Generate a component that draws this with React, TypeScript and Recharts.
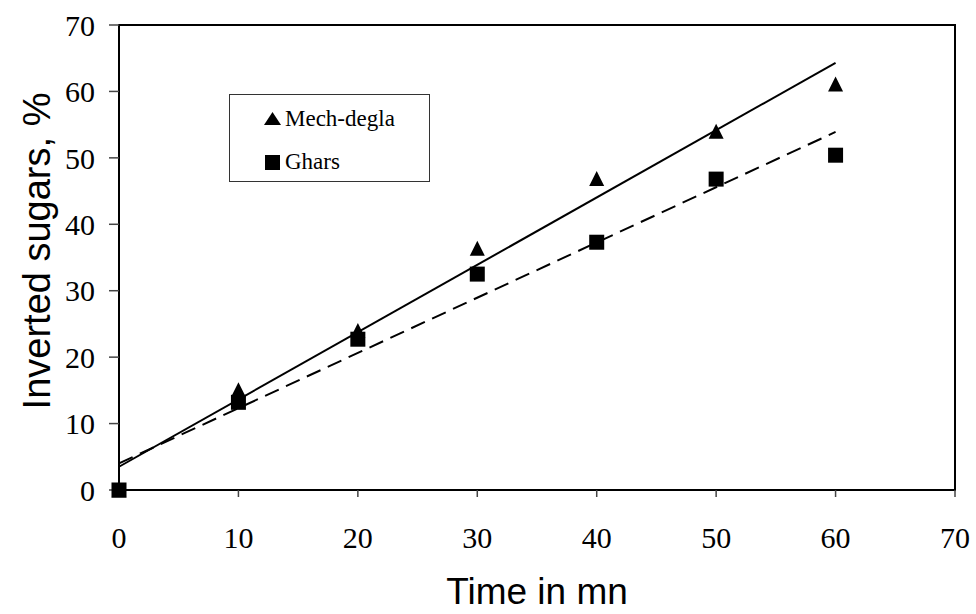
// Inverted sugars vs time — scatter with linear trend lines
import {
  ComposedChart, Scatter, XAxis, YAxis,
  ReferenceLine, ReferenceArea, Legend,
} from 'recharts';

const times = [0, 10, 20, 30, 40, 50, 60];
const mechDegla = [0, 15.1, 24, 36.4, 46.9, 54, 61.1];
const ghars = [0, 13.2, 22.7, 32.5, 37.3, 46.8, 50.4];

// trend line end points (x = 0 and x = 60)
const trendX = [0, 60];
const mechTrend = [3.5, 64.3];
const gharsTrend = [4.0, 53.9];

const xTicks = [0, 10, 20, 30, 40, 50, 60, 70];
const yTicks = [0, 10, 20, 30, 40, 50, 60, 70];

const mechData = times.map((t, i) => ({ x: t, y: mechDegla[i] }));
const gharsData = times.map((t, i) => ({ x: t, y: ghars[i] }));

const SERIF = '"Liberation Serif", "Times New Roman", serif';
const SANS = '"Liberation Sans", Arial, sans-serif';

function Triangle(props: any) {
  const { cx, cy } = props;
  if (cx == null || cy == null) return null;
  const h = 7.5;
  return <polygon points={`${cx},${cy - h} ${cx - h},${cy + h} ${cx + h},${cy + h}`} fill="#000" />;
}

function Square(props: any) {
  const { cx, cy } = props;
  if (cx == null || cy == null) return null;
  return <rect x={cx - 7.5} y={cy - 7.5} width={15} height={15} fill="#000" />;
}

function LegendBox() {
  return (
    <svg width={201} height={88} style={{ display: 'block' }}>
      <rect x={0.5} y={0.5} width={200} height={87} fill="#fff" stroke="#333" strokeWidth={1} />
      <polygon points="43.5,18 35,31 52,31" fill="#000" />
      <text x={56} y={32} fontFamily={SERIF} fontSize={23} fill="#000">Mech-degla</text>
      <rect x={36} y={61} width={15} height={15} fill="#000" />
      <text x={56} y={75} fontFamily={SERIF} fontSize={23} fill="#000">Ghars</text>
    </svg>
  );
}

function XTitle(props: any) {
  const vb = props.viewBox || {};
  return (
    <text x={vb.x + vb.width / 2} y={604} textAnchor="middle" fontFamily={SANS} fontSize={37} fill="#000">
      Time in mn
    </text>
  );
}

function YTitle() {
  return (
    <text x={50} y={251} transform="rotate(-90, 50, 251)" textAnchor="middle" fontFamily={SANS} fontSize={38} fill="#000">
      Inverted sugars, %
    </text>
  );
}

export default function App() {
  const tick = { fill: '#000', fontSize: 30, fontFamily: SERIF };
  return (
    <div style={{ position: 'absolute', left: 0, top: 0, width: 976, height: 614, background: '#fff' }}>
      <ComposedChart width={976} height={614} margin={{ top: 25, right: 21, bottom: 0, left: 0 }}>
        <XAxis
          type="number"
          dataKey="x"
          domain={[0, 70]}
          ticks={xTicks}
          height={124}
          tick={tick}
          tickSize={7}
          tickMargin={30}
          axisLine={{ stroke: '#000', strokeWidth: 2 }}
          tickLine={{ stroke: '#444', strokeWidth: 1.5 }}
          label={{ content: XTitle }}
        />
        <YAxis
          type="number"
          dataKey="y"
          domain={[0, 70]}
          ticks={yTicks}
          width={119}
          tick={tick}
          tickSize={10}
          tickMargin={14}
          axisLine={{ stroke: '#000', strokeWidth: 2 }}
          tickLine={{ stroke: '#444', strokeWidth: 1.5 }}
          label={{ content: YTitle }}
        />
        <ReferenceArea x1={0} x2={70} y1={0} y2={70} fill="none" stroke="#000" strokeWidth={2} />
        <ReferenceLine
          segment={[{ x: trendX[0], y: mechTrend[0] }, { x: trendX[1], y: mechTrend[1] }]}
          stroke="#000"
          strokeWidth={2}
        />
        <ReferenceLine
          segment={[{ x: trendX[0], y: gharsTrend[0] }, { x: trendX[1], y: gharsTrend[1] }]}
          stroke="#000"
          strokeWidth={2}
          strokeDasharray="15 8"
        />
        <Scatter name="Mech-degla" data={mechData} shape={Triangle} isAnimationActive={false} />
        <Scatter name="Ghars" data={gharsData} shape={Square} isAnimationActive={false} />
        <Legend
          layout="horizontal"
          verticalAlign="middle"
          align="center"
          content={() => <LegendBox />}
          wrapperStyle={{ position: 'absolute', left: 229, top: 94, width: 201, height: 88 }}
        />
      </ComposedChart>
    </div>
  );
}
